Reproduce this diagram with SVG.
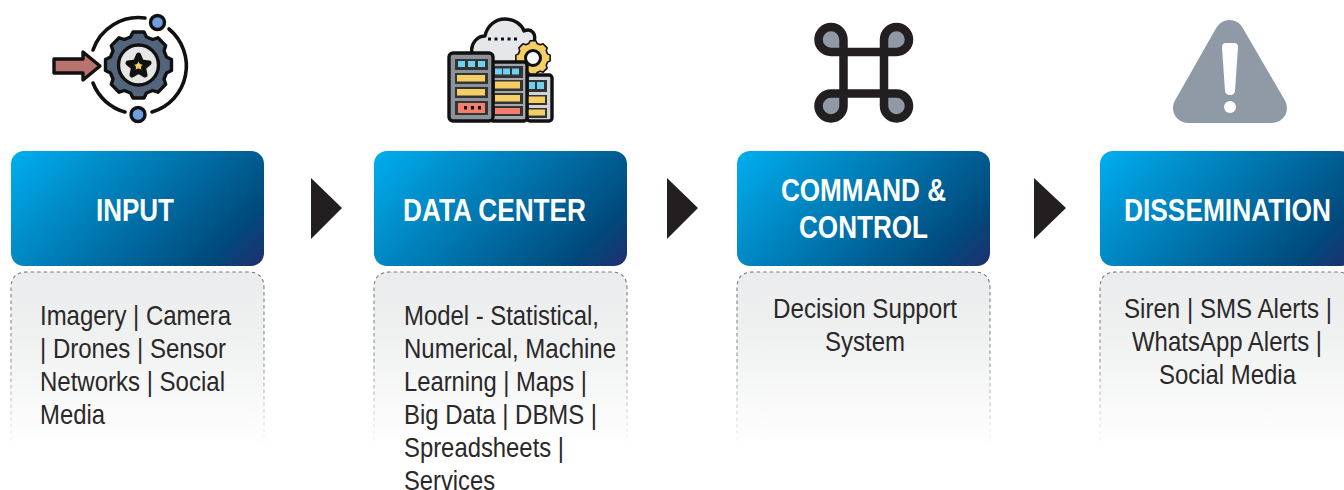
<svg xmlns="http://www.w3.org/2000/svg" width="1344" height="490" viewBox="0 0 1344 490">
<style>
.title{font:bold 31px "Liberation Sans",Arial,sans-serif;fill:#fff;}
.body{font:27.5px "Liberation Sans",Arial,sans-serif;fill:#2a2829;}
.hd{fill:url(#hd);}
.pn{fill:url(#pf);stroke:none;}
.pe{fill:none;stroke:url(#ps);stroke-width:1.1;stroke-dasharray:3.5 3;}
.ic{stroke:#111;stroke-width:3.4;stroke-linejoin:round;stroke-linecap:round;}
.ln{fill:none;stroke:#111;stroke-width:3.6;stroke-linecap:round;}
.arrow{fill:#231f20;}
.blue{fill:#6fd0f0;}
.yel{fill:#f5cf66;}
.red{fill:#f47e6d;}
.dk{fill:#333;}
</style>
<defs>
<linearGradient id="hd" gradientUnits="userSpaceOnUse" x1="0" y1="0" x2="184" y2="184"><stop offset="0" stop-color="#00aeef"/><stop offset="0.83" stop-color="#004a7c"/><stop offset="1" stop-color="#1f2f6e"/></linearGradient>
<linearGradient id="pf" x1="0" y1="0" x2="0" y2="1"><stop offset="0" stop-color="#ebeced"/><stop offset="0.35" stop-color="#eff0f0"/><stop offset="1" stop-color="#fff"/></linearGradient>
<linearGradient id="ps" gradientUnits="userSpaceOnUse" x1="0" y1="272" x2="0" y2="448"><stop offset="0" stop-color="#77787b"/><stop offset="0.5" stop-color="#939598"/><stop offset="1" stop-color="#fff"/></linearGradient>
<path id="gear" d="M-8 -28L-5.500 -33H5.500L8 -28L14.100 -25.500L19.400 -27.200L27.200 -19.400L25.500 -14.100L28 -8L33 -5.500V5.500L28 8L25.500 14.100L27.200 19.400L19.400 27.200L14.100 25.500L8 28L5.500 33H-5.500L-8 28L-14.100 25.500L-19.400 27.200L-27.200 19.400L-25.500 14.100L-28 8L-33 5.500V-5.500L-28 -8L-25.500 -14.100L-27.200 -19.400L-19.400 -27.200L-14.100 -25.500Z"/>
</defs>

<g id="connectors">
<polygon class="arrow" points="311,178 342,208 311,239"/>
<polygon class="arrow" points="667,178 698,208 667,239"/>
<polygon class="arrow" points="1034,178 1066,208 1034,239"/>
</g>

<g id="icon-input">
<path class="ln" d="M145 18A48 48 0 0 0 93 50"/>
<path class="ln" d="M169 29A48 48 0 0 1 152 112"/>
<path class="ln" d="M93 83A48 48 0 0 0 125 112"/>
<circle cx="157.500" cy="22.500" r="7" fill="#6f9fe0" class="ic"/>
<circle cx="138" cy="114.500" r="7" fill="#6f9fe0" class="ic"/>
<use href="#gear" transform="translate(138.500,65)" fill="#53657d" stroke="#111" stroke-width="3.400" stroke-linejoin="round"/>
<circle cx="138.500" cy="65" r="20" fill="#e6e6e6" class="ic"/>
<path fill="#f5cf66" stroke="#111" stroke-width="5" stroke-linejoin="round" d="M138.500 55L141.500 62L149 63L143.500 67.500L145 75L138.500 71L132 75L133.500 67.500L128 63L135.500 62Z"/>
<path class="ic" fill="#b8736e" d="M54 59H83V52L100 66L83 80V73H54Z"/>
</g>

<g id="icon-data">
<path class="ic" fill="#e6e7eb" d="M472 53C470 43 478 36 485 36C487 26 495 19 505 19C515 19 522 25 524 31C531 28 538 33 533 45L530 70H472Z"/>
<path d="M488 39H520" fill="none" stroke="#111" stroke-width="3" stroke-dasharray="3 3.500"/>
<use href="#gear" transform="translate(533,58) scale(.52)" fill="#f5cf66" stroke="#111" stroke-width="3" stroke-linejoin="round"/>
<circle cx="533" cy="58" r="7.500" fill="#fff" stroke="#111" stroke-width="3"/>
<rect x="527" y="75" width="25" height="46" rx="3" fill="#d0d3d8" class="ic"/>
<rect x="527" y="80" width="20" height="12" class="dk"/>
<rect x="529" y="82" width="6" height="7" class="blue"/><rect x="537" y="82" width="7" height="7" class="blue"/>
<rect x="527" y="95" width="20" height="10" class="dk"/>
<rect x="527" y="96.500" width="18" height="6.500" class="yel"/>
<rect x="527" y="108" width="20" height="10" class="dk"/>
<rect x="527" y="109.500" width="18" height="6" class="yel"/>
<rect x="490" y="62" width="37" height="59" rx="3" fill="#a4a9b0" class="ic"/>
<rect x="493" y="66" width="30" height="12" class="dk"/>
<rect x="495" y="68.500" width="7" height="6" class="blue"/><rect x="503" y="68.500" width="7" height="6" class="blue"/><rect x="512" y="68.500" width="7" height="6" class="blue"/>
<rect x="493" y="80" width="30" height="11" class="dk"/>
<rect x="495" y="81.500" width="25" height="7" class="yel"/>
<rect x="493" y="93" width="30" height="11" class="dk"/>
<rect x="495" y="95" width="25" height="6.500" class="yel"/>
<rect x="493" y="106" width="30" height="10" class="dk"/>
<rect x="495" y="108" width="25" height="6" class="red"/>
<rect x="449" y="53" width="44" height="68" rx="4" fill="#8a929b" class="ic"/>
<rect x="455" y="59" width="33" height="11" class="dk"/>
<rect x="458" y="61" width="7" height="6" class="blue"/><rect x="468" y="61" width="7" height="6" class="blue"/><rect x="478" y="61" width="7" height="6" class="blue"/>
<rect x="455" y="73" width="33" height="11" class="dk"/>
<rect x="457" y="75" width="28" height="6.500" class="yel"/>
<rect x="455" y="87" width="33" height="11" class="dk"/>
<rect x="457" y="89" width="28" height="6.500" class="yel"/>
<rect x="455" y="101" width="33" height="14" class="dk"/>
<rect x="458" y="103" width="27" height="10" class="red"/>
<rect x="464" y="106" width="3" height="3.500" fill="#111"/><rect x="471" y="106" width="3" height="3.500" fill="#111"/><rect x="478" y="106" width="3" height="3.500" fill="#111"/>
</g>

<g id="icon-command">
<path fill="#8f9aa6" d="M843.500 52H831A12.500 12.500 0 1 1 843.500 39.500ZM884 52V39.500A12.500 12.500 0 1 1 896.500 52ZM843.500 93.500V106A12.500 12.500 0 1 1 831 93.500ZM884 93.500H896.500A12.500 12.500 0 1 1 884 106Z"/>
<path fill="none" stroke="#231f20" stroke-width="8.500" d="M843.500 39.500V106A12.500 12.500 0 1 1 831 93.500H896.500A12.500 12.500 0 1 1 884 106V39.500A12.500 12.500 0 1 1 896.500 52H831A12.500 12.500 0 1 1 843.500 39.500Z"/>
</g>

<g id="icon-warning">
<polygon points="1229.500,35 1188,108 1272,108" fill="#8f9aa6" stroke="#8f9aa6" stroke-width="30" stroke-linejoin="round"/>
<path fill="#fff" d="M1222 47Q1222 43 1226 43H1234Q1238 43 1238 47L1235 91Q1234.500 95 1230 95Q1225.500 95 1225 91Z"/>
<circle cx="1230" cy="107" r="6" fill="#fff"/>
</g>

<g id="node-input">
<rect class="hd" width="253" height="115" rx="13" transform="translate(11,151)"/>
<text class="title" x="135" y="221" text-anchor="middle" textLength="78" lengthAdjust="spacingAndGlyphs">INPUT</text>
<path class="pn" d="M11 447V288Q11 272 27 272H248Q264 272 264 288V447Z"/>
<path class="pe" d="M11 447V288Q11 272 27 272H248Q264 272 264 288V447"/>
<text class="body" x="40" y="325" textLength="191" lengthAdjust="spacingAndGlyphs">Imagery | Camera</text>
<text class="body" x="40" y="358" textLength="186" lengthAdjust="spacingAndGlyphs">| Drones | Sensor</text>
<text class="body" x="40" y="391" textLength="185" lengthAdjust="spacingAndGlyphs">Networks | Social</text>
<text class="body" x="40" y="424" textLength="65" lengthAdjust="spacingAndGlyphs">Media</text>
</g>

<g id="node-data-center">
<rect class="hd" width="253" height="115" rx="13" transform="translate(374,151)"/>
<text class="title" x="494.500" y="221" text-anchor="middle" textLength="183" lengthAdjust="spacingAndGlyphs">DATA CENTER</text>
<path class="pn" d="M374 447V288Q374 272 390 272H611Q627 272 627 288V447Z"/>
<path class="pe" d="M374 447V288Q374 272 390 272H611Q627 272 627 288V447"/>
<text class="body" x="404" y="325" textLength="195" lengthAdjust="spacingAndGlyphs">Model - Statistical,</text>
<text class="body" x="404" y="358" textLength="212" lengthAdjust="spacingAndGlyphs">Numerical, Machine</text>
<text class="body" x="404" y="391" textLength="183" lengthAdjust="spacingAndGlyphs">Learning | Maps |</text>
<text class="body" x="404" y="424" textLength="193" lengthAdjust="spacingAndGlyphs">Big Data | DBMS |</text>
<text class="body" x="404" y="457" textLength="160" lengthAdjust="spacingAndGlyphs">Spreadsheets |</text>
<text class="body" x="404" y="490" textLength="91" lengthAdjust="spacingAndGlyphs">Services</text>
</g>

<g id="node-command">
<rect class="hd" width="253" height="115" rx="13" transform="translate(737,151)"/>
<text class="title" x="863.500" y="201" text-anchor="middle" textLength="165" lengthAdjust="spacingAndGlyphs">COMMAND &amp;</text>
<text class="title" x="863.500" y="238" text-anchor="middle" textLength="129" lengthAdjust="spacingAndGlyphs">CONTROL</text>
<path class="pn" d="M737 447V288Q737 272 753 272H974Q990 272 990 288V447Z"/>
<path class="pe" d="M737 447V288Q737 272 753 272H974Q990 272 990 288V447"/>
<text class="body" x="865" y="318" text-anchor="middle" textLength="184" lengthAdjust="spacingAndGlyphs">Decision Support</text>
<text class="body" x="865" y="351" text-anchor="middle" textLength="80" lengthAdjust="spacingAndGlyphs">System</text>
</g>

<g id="node-dissemination">
<rect class="hd" width="253" height="115" rx="13" transform="translate(1100,151)"/>
<text class="title" x="1227.500" y="221" text-anchor="middle" textLength="207" lengthAdjust="spacingAndGlyphs">DISSEMINATION</text>
<path class="pn" d="M1100 447V288Q1100 272 1116 272H1337Q1353 272 1353 288V447Z"/>
<path class="pe" d="M1100 447V288Q1100 272 1116 272H1337Q1353 272 1353 288V447"/>
<text class="body" x="1228" y="318" text-anchor="middle" textLength="208" lengthAdjust="spacingAndGlyphs">Siren | SMS Alerts |</text>
<text class="body" x="1227" y="351" text-anchor="middle" textLength="190" lengthAdjust="spacingAndGlyphs">WhatsApp Alerts |</text>
<text class="body" x="1227.500" y="384" text-anchor="middle" textLength="137" lengthAdjust="spacingAndGlyphs">Social Media</text>
</g>
</svg>
